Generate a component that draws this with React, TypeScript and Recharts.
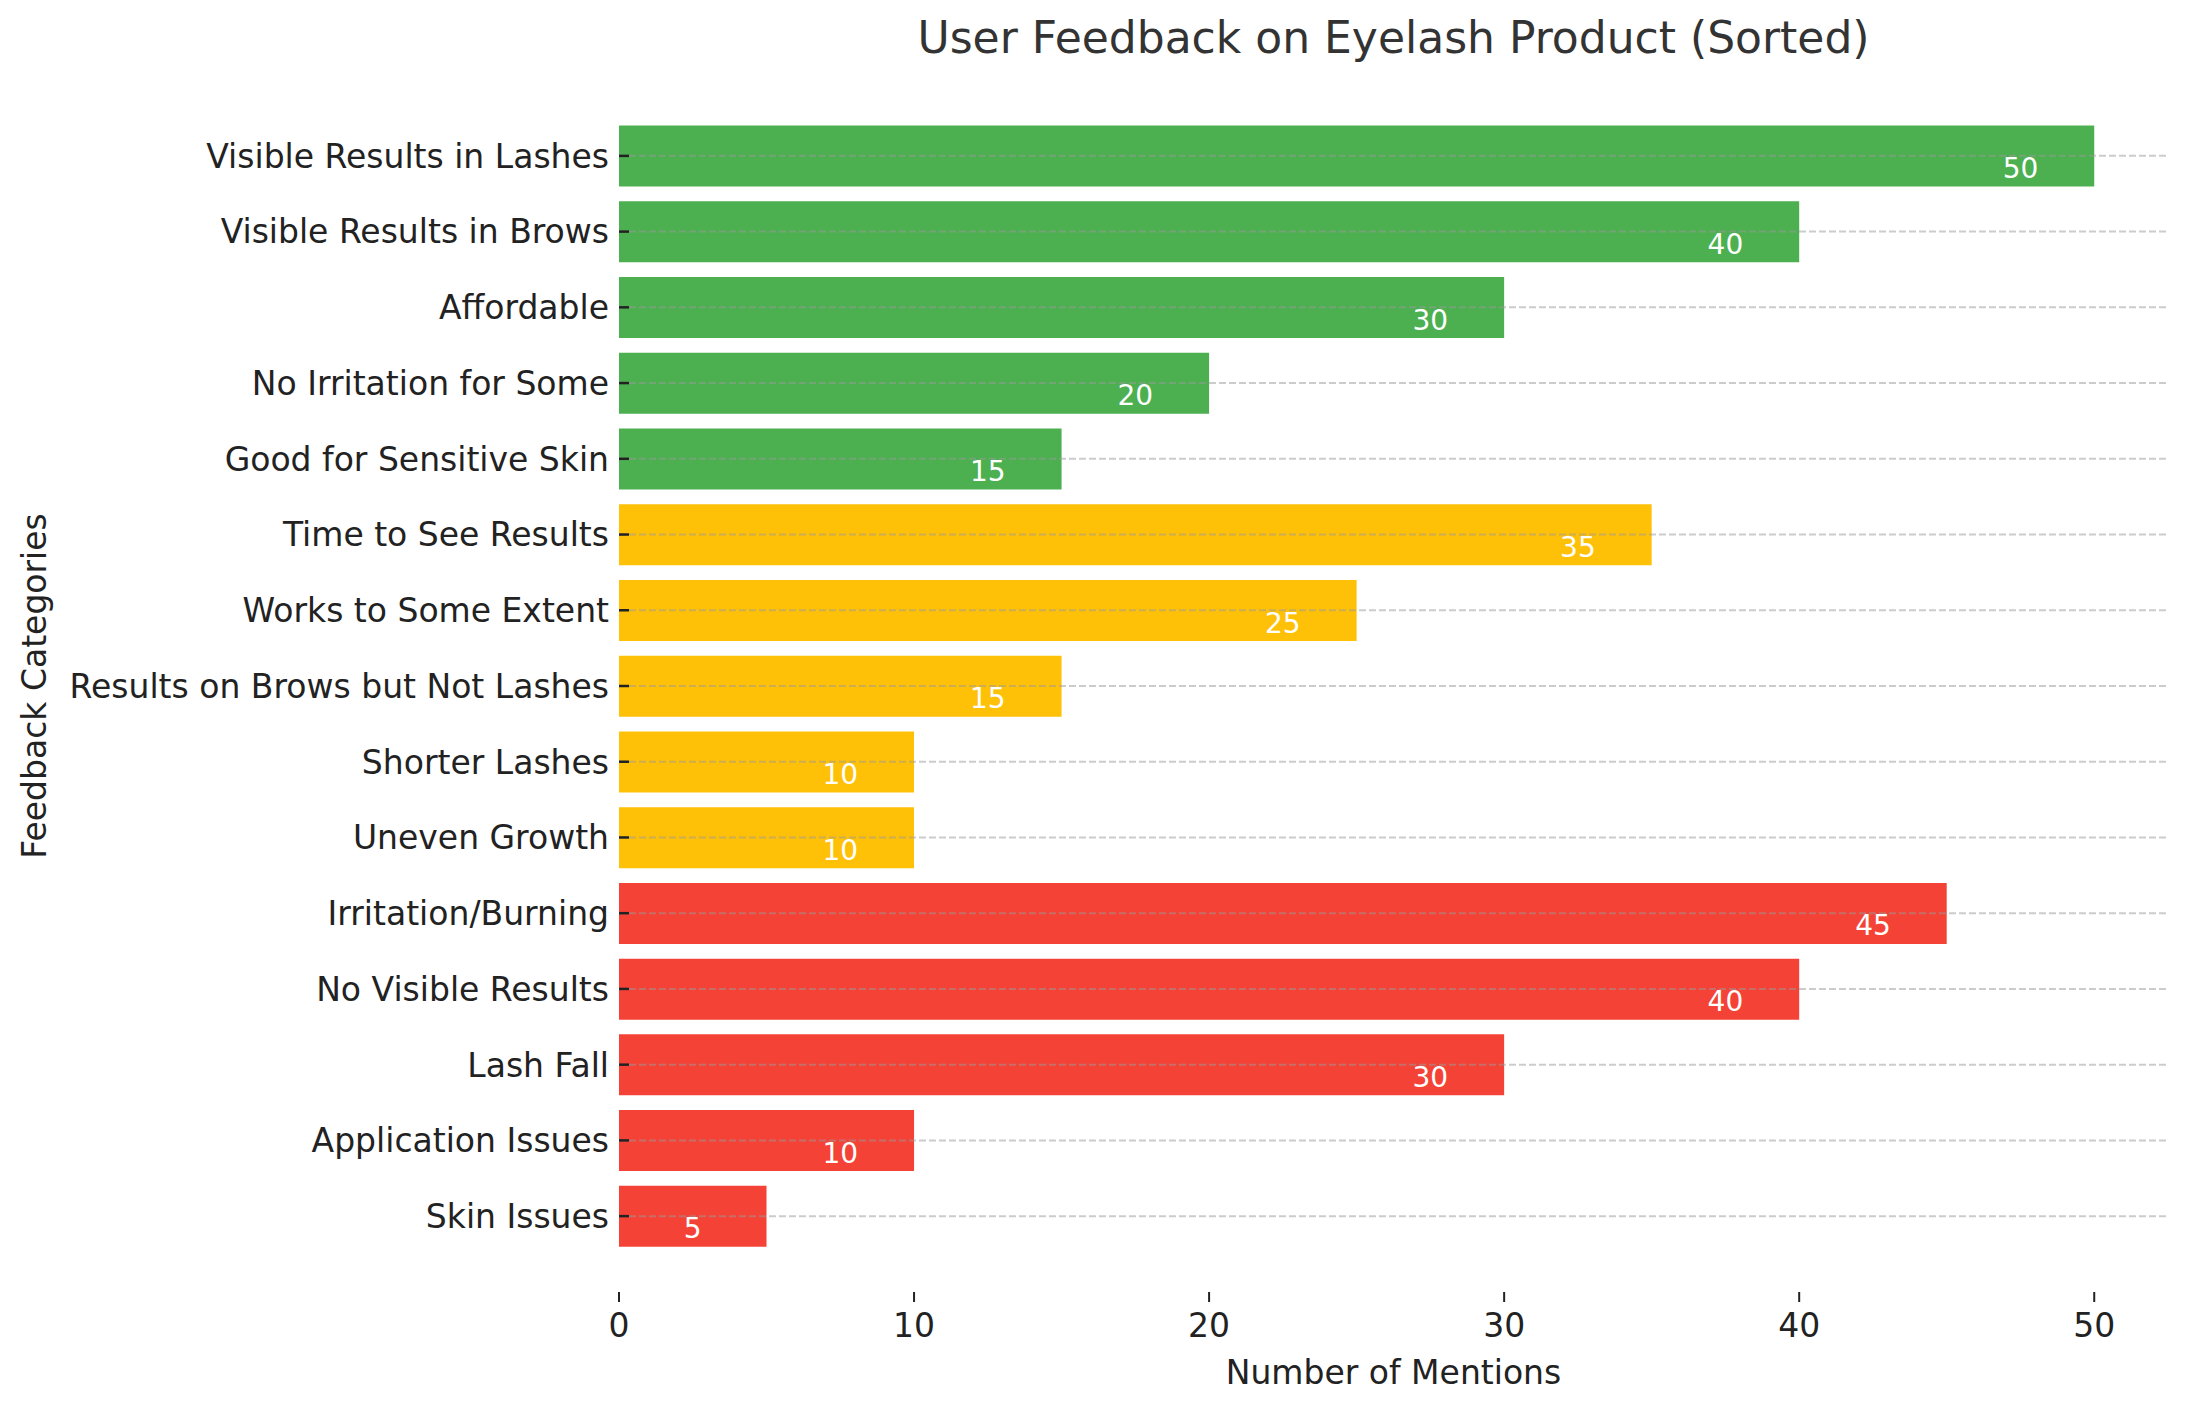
import React from 'react';
import { BarChart, Bar, XAxis, YAxis, Cell, LabelList, ReferenceLine } from 'recharts';

document.body.style.margin = '0';

const categories = [
  'Visible Results in Lashes',
  'Visible Results in Brows',
  'Affordable',
  'No Irritation for Some',
  'Good for Sensitive Skin',
  'Time to See Results',
  'Works to Some Extent',
  'Results on Brows but Not Lashes',
  'Shorter Lashes',
  'Uneven Growth',
  'Irritation/Burning',
  'No Visible Results',
  'Lash Fall',
  'Application Issues',
  'Skin Issues',
];
const mentions = [50, 40, 30, 20, 15, 35, 25, 15, 10, 10, 45, 40, 30, 10, 5];
const sentiment = [
  'positive', 'positive', 'positive', 'positive', 'positive',
  'neutral', 'neutral', 'neutral', 'neutral', 'neutral',
  'negative', 'negative', 'negative', 'negative', 'negative',
];
const xTicks = [0, 10, 20, 30, 40, 50];

const colors: Record<string, string> = {
  positive: '#4caf50',
  neutral: '#ffc107',
  negative: '#f44336',
};

const data = categories.map((c, i) => ({ category: c, mentions: mentions[i], sentiment: sentiment[i] }));

const FONT = '"DejaVu Sans", sans-serif';

const YTick = (props: any) => {
  const { x, y, payload } = props;
  return (
    <g>
      <line x1={x + 10} x2={x + 20} y1={y} y2={y} stroke="#222" strokeWidth={2.5} />
      <text x={x} y={y} dy="0.36em" textAnchor="end" fontSize={33} fill="#222" fontFamily={FONT}>
        {payload.value}
      </text>
    </g>
  );
};

// value label sits a little inside the bar end, just below the centre line
const ValueLabel = (props: any) => {
  const { x, y, width, height, value } = props;
  const cx = x + width * (1 - 2.5 / value);
  return (
    <text x={cx} y={y + height / 2 + 12} dy="0.36em" textAnchor="middle" fontSize={28} fill="#fff" fontFamily={FONT}>
      {value}
    </text>
  );
};

export default function App() {
  return (
    <div style={{ position: 'relative', width: 2189, height: 1409, background: '#fff', fontFamily: FONT }}>
      <div style={{ position: 'absolute', left: 619, width: 1549, top: 12, textAlign: 'center', fontSize: 44, color: '#333', lineHeight: '52px' }}>
        User Feedback on Eyelash Product (Sorted)
      </div>
      <div style={{ position: 'absolute', left: 619, width: 1549, top: 1353, textAlign: 'center', fontSize: 33, color: '#222', lineHeight: '40px' }}>
        Number of Mentions
      </div>
      <div style={{ position: 'absolute', left: 35, top: 686, width: 0, height: 0 }}>
        <div style={{ position: 'absolute', transform: 'translate(-50%, -50%) rotate(-90deg)', whiteSpace: 'nowrap', fontSize: 33, color: '#222', lineHeight: '40px' }}>
          Feedback Categories
        </div>
      </div>
      <BarChart
        width={2189}
        height={1409}
        data={data}
        layout="vertical"
        margin={{ top: 80, right: 21, bottom: 17, left: 0 }}
        barCategoryGap="10%"
      >
        <XAxis
          type="number"
          dataKey="mentions"
          domain={[0, 52.5]}
          ticks={xTicks}
          axisLine={false}
          tickSize={10}
          tickLine={{ stroke: '#222', strokeWidth: 2 }}
          tickMargin={12}
          height={100}
          tick={{ fontSize: 33, fill: '#222', fontFamily: FONT }}
          allowDataOverflow
        />
        <YAxis
          type="category"
          dataKey="category"
          width={619}
          axisLine={false}
          tickLine={false}
          tickSize={0}
          tickMargin={10}
          interval={0}
          padding={{ top: 38, bottom: 38 }}
          tick={<YTick />}
        />
        <Bar dataKey="mentions" isAnimationActive={false}>
          {data.map((d, i) => (
            <Cell key={i} fill={colors[d.sentiment]} />
          ))}
          <LabelList dataKey="mentions" content={<ValueLabel />} />
        </Bar>
        {categories.map((c) => (
          <ReferenceLine key={c} y={c} stroke="#999" strokeOpacity={0.5} strokeDasharray="7 3" strokeWidth={2} />
        ))}
      </BarChart>
    </div>
  );
}
